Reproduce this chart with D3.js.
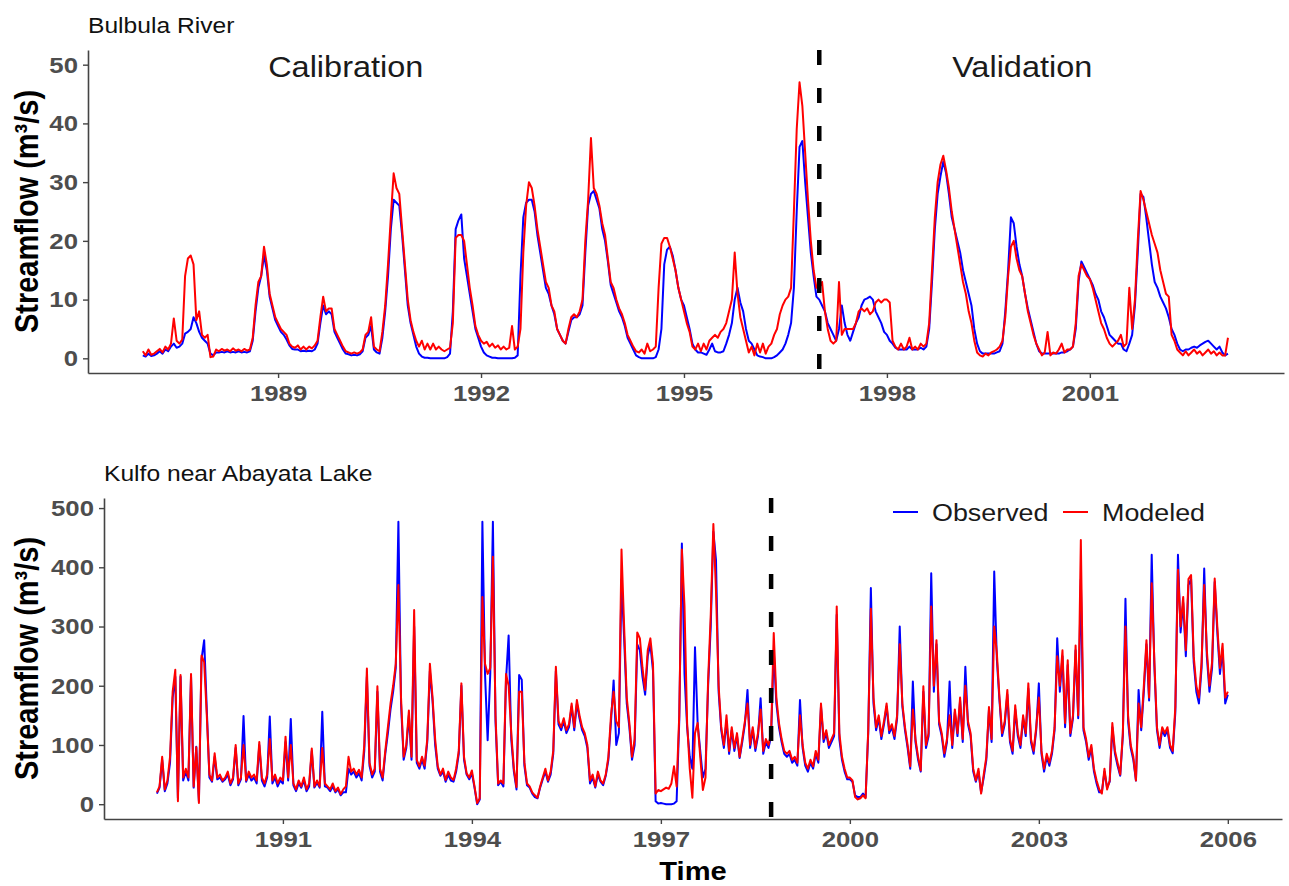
<!DOCTYPE html>
<html>
<head>
<meta charset="utf-8">
<script src="https://cdn.jsdelivr.net/npm/d3@7"></script>
<style>
  body { margin: 0; background: #fff; }
  svg { display: block; font-family: "Liberation Sans", Arial, sans-serif; }
</style>
</head>
<body>
<svg id="chart" width="1289" height="886"></svg>
<script>
// half-monthly values (m3/s), one row per year
const STEP = 1 / 24;

const bulbulaStart = 1987;
const bulbulaModeled = [
  1.2,0.5,1.5,0.6,0.8,1.2,1.6,1.0,2.0,1.5,2.5,6.8,3.0,2.5,3.2,14,17,17.5,16,6.5,8,4,3.5,4,
  0.2,0.3,1.5,1.2,1.6,1.3,1.5,1.2,1.7,1.3,1.5,1.2,1.6,1.3,1.5,3.5,9,13,14,19,16,11,9,7,
  6,5,4.5,4,2.5,2.0,1.8,2.2,1.5,2.0,1.5,2.0,1.7,2.2,3,7,10.5,8,8.5,8.5,5,4,3,2,
  1.2,1.0,0.8,1.0,0.8,1.0,1.5,4.0,4.5,7.0,2.0,1.5,1.2,4.5,9,16,24,31.5,29,28,22,16,10,6.5,
  4.5,3,2,3,1.5,2.5,1.5,2.5,1.5,2,1.5,1.2,1.5,1.8,6,20.5,21,21,20,16,12,9,5.5,4,
  3,2.5,2.8,2.0,2.5,1.8,2.2,1.5,2.0,1.5,1.8,5.5,1.5,2.0,5,18,26,30,29,26,22,19,16,13,
  12,9,8,5,4,3,2.5,5,7,7.5,7,8,10,20,27,37.5,29,28,26,23,21,17,13,12,
  10,8.5,7.5,6,4,3,2,1.2,1,1.5,0.8,2.5,1.2,1.5,2,12,19.5,20.5,20.5,19,17,15,12,10,
  8,6,4.5,2,1.5,2.5,1.2,2.5,1.5,3,3.5,4,3.5,4.5,5,6,8,10,18,11,7,5,3,1,
  2,0.5,2.5,1,2.5,0.8,2,2.5,4,5,7.5,9,10,10.5,12,25,39,47,43,35,27,20,15,12,
  12,13,8,5,3,2.5,3,13,4,5,5,5,5,6,8,8.5,8,8.5,7.5,8,9.5,10,9.5,10,
  10,9.5,3,2,1.5,2.5,1.5,2,3.5,1.5,2,1.5,2.5,2,2.5,6,15,24,30,33,34.5,32,29,25,
  22,19,16,13,11,8,6,3,1,0.5,0.3,0.8,0.5,1,1.2,1.5,2,3,7,14,19,20,17,15,
  14,11,8,6,4,2.5,1.5,0.5,1,4.5,0.5,1,0.8,1.5,2.5,1,1.5,1.5,2,6,14,16,15,14,
  13.5,12,10,8,6,5,3.5,2.5,2,2.5,3,4,2,2.5,12,5,10,20,28.5,27,25,23,21,19.5,
  18,15,13,11,10.5,4,3,1.5,1,0.5,1.2,0.5,1,1.5,0.8,1.2,0.5,1,1.5,0.8,1.2,0.5,1,0.5,
  0.5,3.5
];
const bulbulaObserved = [
  0.5,0.3,0.8,0.4,0.5,0.8,1.2,0.8,1.5,1.2,2.0,2.5,1.8,2.0,2.5,4.2,4.5,5.0,7.0,6.0,4.5,3.5,3.0,2.5,
  0.8,0.5,1.0,1.0,1.1,1.0,1.2,1.0,1.1,1.0,1.2,1.0,1.1,1.0,1.2,3.0,8,12,14,17.5,15,10.5,8.5,6.5,
  5.5,4.5,4,3.2,2.2,1.6,1.5,1.5,1.2,1.3,1.2,1.3,1.2,1.5,2.5,6,9,7.5,8,7.5,4.5,3.5,2.5,1.5,
  0.8,0.7,0.5,0.6,0.5,0.7,1.2,3.5,4.0,5.5,1.5,1.0,0.8,3.5,8,14,22,27,26.5,26,21,15,9,6,
  4,2,0.8,0.3,0.1,0.1,0,0,0,0,0,0,0.2,0.8,8,22,23.5,24.5,17,14,11,8,5,3.5,
  2,1.0,0.5,0.3,0.1,0.1,0,0,0,0,0,0,0.1,0.5,14,24,26.5,27,27,25,21,18,15,12,
  11,9,7.5,5,4,3,2.5,4.5,6.5,7,7,7.5,9,18,26,28,28.5,27,25.5,22,20,16.5,12.5,11,
  9.5,8,7,5.5,3.5,2.5,1.5,0.5,0.2,0,0,0,0,0,0.2,1.5,5,16,18.5,19,17.5,15,12,10,
  9,7,5,2.5,1.5,1,1,0.8,0.6,1.5,2.5,1.2,1,1,1.2,2.5,4,6,10,12,9.5,8,5,3,
  2.5,1.5,0.5,0.3,0.2,0,0,0,0.2,0.5,1,1.5,2.5,4,6,12,25,36,37,30,24,18,14,10.5,
  10,9,8,6,5,4,3,5,9,6,4,3,4.5,6,7,9,10,10.2,10.5,10,8,7,6,4.5,
  4,3,2.5,1.8,1.5,1.5,1.5,1.5,2,1.5,1.5,1.5,1.8,1.5,2,5,13,22,28,31,33.5,31.5,28,24,
  22,20,18,15,13,11,9,5,2.5,1.2,0.8,0.8,0.8,0.8,0.8,1,1.2,2.5,8,15,24,23,19,16,
  14,11,8.5,6.5,4.5,2.5,1.2,0.8,0.8,0.8,0.8,0.8,0.8,0.8,1,1,1.2,1.5,2,5,13,16.5,15.5,14.5,
  13.5,12.5,11,10,8,7,5.5,4,3.5,3,2.5,2.5,1.5,1.2,2.5,4,9,18,28,27.5,24,20,16,13,
  12,10.5,9.5,8.5,7,5,4,2.5,1.5,1.2,1.5,1.5,1.8,2.0,1.8,2.2,2.5,2.8,3,2.5,2.0,1.5,2,1.0,
  0.5,0.8
];

const kulfoStart = 1989;
const kulfoModeled = [
  20,30,80,25,40,80,190,227,5,218,45,60,45,220,30,96,2,251,240,150,50,40,86,45,
  50,40,45,55,35,45,100,35,45,100,40,55,45,50,40,105,45,35,50,110,40,50,35,45,
  40,114,45,100,35,25,40,30,45,25,35,94,30,40,30,95,35,30,25,35,22,28,17,25,
  30,80,55,60,50,58,45,100,229,70,50,60,199,60,45,90,130,170,200,237,370,180,80,100,
  158,80,328,75,64,80,65,110,237,181,110,64,50,60,41,55,45,41,60,90,204,80,52,45,
  57,30,2,10,350,237,220,230,418,150,35,40,35,220,200,120,60,29,190,190,71,35,30,20,
  15,11,30,45,60,40,55,90,232,140,130,145,125,135,170,130,176,150,130,120,100,40,50,30,
  55,40,35,50,80,150,190,140,130,430,300,180,137,80,110,290,280,230,193,260,280,237,18,24,
  22,25,28,26,35,64,30,150,430,334,137,60,11,120,137,80,24,45,210,320,473,360,200,130,
  100,150,90,130,95,120,80,110,140,170,100,130,95,120,160,90,110,100,120,289,180,137,110,90,
  85,90,75,80,70,150,100,70,60,75,64,90,75,170,110,125,100,110,120,334,120,80,60,45,
  45,40,12,8,10,15,10,125,330,180,130,150,115,140,170,125,135,115,150,270,170,130,100,64,
  160,110,80,57,199,100,120,334,200,277,140,120,86,110,150,100,160,120,180,110,200,140,120,60,
  40,60,18,50,80,164,110,300,255,180,120,140,193,110,90,167,120,100,150,120,204,110,90,130,
  180,90,60,85,70,90,130,250,200,260,137,243,120,150,268,150,446,130,110,80,100,60,40,25,
  18,60,25,40,137,90,70,50,120,300,150,100,80,40,170,130,200,277,180,373,243,130,100,130,
  120,130,100,90,164,396,300,350,260,380,387,250,200,180,240,370,260,200,240,381,300,230,271,180,
  190
];
const kulfoObserved = [
  18,28,75,22,35,70,180,215,10,215,40,55,40,215,28,97,5,245,277,160,45,38,80,42,
  45,38,42,50,32,42,95,32,42,149,38,50,40,45,35,100,40,30,45,148,35,45,30,40,
  35,105,40,144,32,22,35,28,40,22,30,90,28,36,28,156,30,28,22,30,20,25,15,20,
  20,60,50,55,45,52,40,90,215,65,45,55,190,55,40,85,120,160,190,230,477,170,75,95,
  150,75,300,70,60,75,60,105,225,175,100,60,48,55,38,50,40,38,55,85,200,75,50,42,
  52,28,0,8,477,220,108,220,477,140,32,38,30,210,285,110,55,25,218,210,65,32,28,18,
  12,10,28,42,55,38,50,85,225,135,125,140,120,130,165,125,170,145,125,115,95,35,45,28,
  50,38,32,48,75,140,209,100,120,380,280,170,130,75,100,270,260,215,185,250,270,225,5,1,
  2,1,0,0,0,1,5,140,440,220,130,80,60,265,137,90,45,60,200,300,460,412,190,125,
  95,140,85,125,90,115,78,105,135,193,95,125,90,115,179,85,105,95,115,260,170,130,105,85,
  80,85,70,75,65,176,95,65,55,70,60,85,70,165,105,120,95,105,115,320,110,75,55,42,
  42,38,15,12,12,18,12,120,365,170,125,145,110,135,165,120,130,110,145,300,165,125,95,60,
  207,105,75,55,190,95,115,390,190,270,135,115,80,105,207,95,155,115,175,105,232,135,115,55,
  38,55,20,45,75,160,105,393,245,175,115,135,185,105,85,160,115,95,145,115,195,105,85,125,
  204,85,55,80,65,85,125,280,190,250,130,235,115,145,260,145,380,125,105,75,95,55,35,20,
  20,55,28,38,130,85,65,48,115,347,140,95,75,40,193,125,190,270,175,421,235,125,95,125,
  115,125,95,86,155,421,290,340,250,370,380,240,190,170,230,398,250,190,230,375,290,220,260,170,
  185
];

const bulbulaXTicks = [1989, 1992, 1995, 1998, 2001];
const bulbulaYTicks = [0, 10, 20, 30, 40, 50];
const kulfoXTicks = [1991, 1994, 1997, 2000, 2003, 2006];
const kulfoYTicks = [0, 100, 200, 300, 400, 500];

// end of calibration period
const bulbulaSplit = 1997.0;
const kulfoSplit = 1998.75;

const periodLabels = ['Calibration', 'Validation'];
const periodYears = [1990, 2000];
const legendLabels = ['Observed', 'Modeled'];
const seriesColors = ['#0000ff', '#ff0000'];

// the reference is a bit wider than tall, so text is stretched horizontally
const SX = 1.12;

const svg = d3.select('#chart');

const panels = [
  {
    title: 'Bulbula River', start: bulbulaStart,
    observed: bulbulaObserved, modeled: bulbulaModeled,
    xTicks: bulbulaXTicks, yTicks: bulbulaYTicks, split: bulbulaSplit,
    xDomain: [1986.19, 2003.87], yDomain: [-2.5, 52.5],
    left: 88, right: 1284, top: 50, bottom: 373, titleY: 33,
    periods: true,
  },
  {
    title: 'Kulfo near Abayata Lake', start: kulfoStart,
    observed: kulfoObserved, modeled: kulfoModeled,
    xTicks: kulfoXTicks, yTicks: kulfoYTicks, split: kulfoSplit,
    xDomain: [1988.16, 2006.86], yDomain: [-25, 517],
    left: 104, right: 1282, top: 498, bottom: 819, titleY: 481,
    legend: true, xTitle: 'Time',
  },
];

function stretched(sel, x, y, rot) {
  sel.attr('transform', 'translate(' + x + ',' + y + ') scale(' + SX + ',1)' + (rot ? ' rotate(' + rot + ')' : ''));
  return sel;
}

panels.forEach((p) => {
  const x = d3.scaleLinear().domain(p.xDomain).range([p.left, p.right]);
  const y = d3.scaleLinear().domain(p.yDomain).range([p.bottom, p.top]);

  // Axes
  const xAxis = d3.axisBottom(x)
    .tickValues(p.xTicks)
    .tickFormat(d3.format('d'))
    .tickSize(5)
    .tickSizeOuter(0)
    .tickPadding(7);
  const yAxis = d3.axisLeft(y)
    .tickValues(p.yTicks)
    .tickSize(5)
    .tickSizeOuter(0)
    .tickPadding(5);

  const gx = svg.append('g')
    .attr('transform', 'translate(0,' + p.bottom + ')')
    .call(xAxis);
  const gy = svg.append('g')
    .attr('transform', 'translate(' + p.left + ',0)')
    .call(yAxis);

  [gx, gy].forEach((g) => {
    g.attr('font-family', null).attr('font-size', 23);
    g.select('.domain').attr('stroke', '#444').attr('stroke-width', 1.6);
    g.selectAll('.tick line').attr('stroke', '#444').attr('stroke-width', 1.4);
    g.selectAll('.tick text')
      .attr('fill', '#4d4d4d')
      .attr('font-weight', 'bold')
      .attr('transform', 'scale(' + SX + ',1)');
  });
  gy.selectAll('.tick text').attr('x', -10 / SX);

  // Series: observed below, modeled on top
  const line = d3.line()
    .x((d, i) => x(p.start + i * STEP))
    .y((d) => y(d));

  [p.observed, p.modeled].forEach((values, k) => {
    svg.append('path')
      .datum(values)
      .attr('fill', 'none')
      .attr('stroke', seriesColors[k])
      .attr('stroke-width', 2)
      .attr('stroke-linejoin', 'round')
      .attr('d', line);
  });

  // Calibration / validation split
  svg.append('line')
    .attr('x1', x(p.split)).attr('x2', x(p.split))
    .attr('y1', p.top).attr('y2', p.bottom)
    .attr('stroke', '#000')
    .attr('stroke-width', 4.5)
    .attr('stroke-dasharray', '15,23');

  // Panel title
  svg.append('text')
    .attr('font-size', 22)
    .attr('fill', '#111')
    .text(p.title)
    .call(stretched, p.left, p.titleY);

  // Y title
  svg.append('text')
    .attr('font-size', 29)
    .attr('font-weight', 'bold')
    .attr('text-anchor', 'middle')
    .attr('fill', '#000')
    .text('Streamflow (m³/s)')
    .call(stretched, 38, (p.top + p.bottom) / 2, -90);

  if (p.periods) {
    periodLabels.forEach((label, i) => {
      svg.append('text')
        .attr('font-size', 29)
        .attr('text-anchor', 'middle')
        .attr('dominant-baseline', 'central')
        .attr('fill', '#1a1a1a')
        .text(label)
        .call(stretched, x(periodYears[i]), y(50) + 2);
    });
  }

  if (p.legend) {
    const keyX = [893, 1063];
    const keyY = 512;
    legendLabels.forEach((label, k) => {
      svg.append('line')
        .attr('x1', keyX[k]).attr('x2', keyX[k] + 25)
        .attr('y1', keyY).attr('y2', keyY)
        .attr('stroke', seriesColors[k])
        .attr('stroke-width', 2);
      svg.append('text')
        .attr('font-size', 24)
        .attr('dominant-baseline', 'central')
        .attr('fill', '#1a1a1a')
        .text(label)
        .call(stretched, keyX[k] + 39, keyY + 1);
    });
  }

  if (p.xTitle) {
    svg.append('text')
      .attr('font-size', 26)
      .attr('font-weight', 'bold')
      .attr('text-anchor', 'middle')
      .attr('fill', '#000')
      .text(p.xTitle)
      .call(stretched, (p.left + p.right) / 2, 880);
  }
});
</script>
</body>
</html>
